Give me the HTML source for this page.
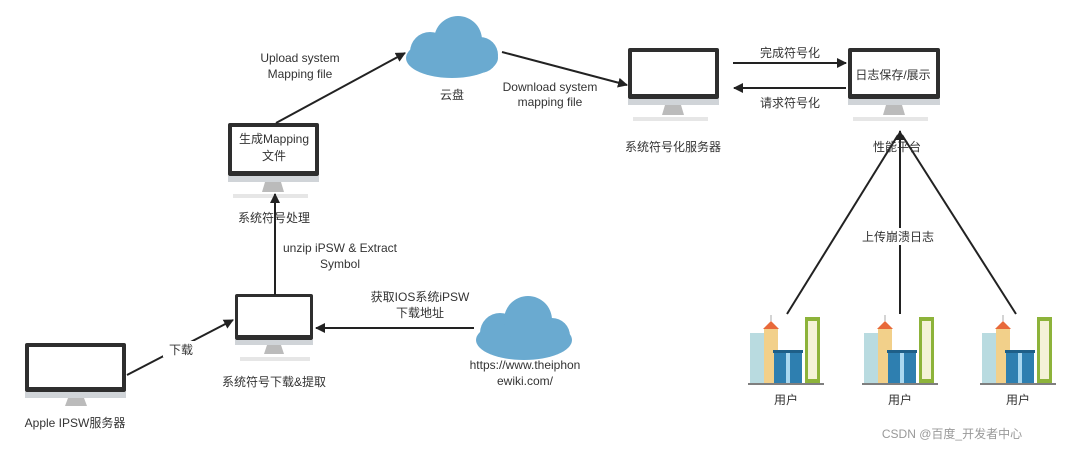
<!DOCTYPE html>
<html><head><meta charset="utf-8"><style>
body{margin:0;background:#fff;}
svg text{font-family:"Liberation Sans","Noto Sans CJK SC",sans-serif;fill:#333;font-size:12px;}
</style></head><body>
<svg width="1080" height="454" viewBox="0 0 1080 454" xmlns="http://www.w3.org/2000/svg">
<defs>
<marker id="a" markerWidth="10" markerHeight="10" refX="9" refY="5" orient="auto" markerUnits="userSpaceOnUse"><path d="M0,0 L10,5 L0,10 z" fill="#222"/></marker>
<g id="bld">
 <rect x="2" y="18" width="16" height="50" fill="#b9dbe0"/>
 <rect x="16" y="14" width="14" height="54" fill="#f2d08a"/>
 <path d="M15,14 L23,6 L31,14z" fill="#e8693a"/>
 <line x1="23" y1="0" x2="23" y2="6" stroke="#aaa"/>
 <rect x="26" y="37" width="28" height="31" fill="#2e7fb0"/>
 <rect x="25" y="35" width="30" height="3" fill="#1e5f88"/>
 <rect x="38" y="38" width="4" height="30" fill="#a9d8f0"/>
 <rect x="57" y="2" width="15" height="66" fill="#8db33a"/>
 <rect x="60" y="6" width="9" height="58" fill="#f4f2d8"/>
 <line x1="0" y1="69" x2="76" y2="69" stroke="#555" stroke-width="1.5"/>
</g>
</defs>

<!-- clouds -->
<g fill="#6aaad0">
 <ellipse cx="452" cy="58" rx="46" ry="20"/><circle cx="430" cy="52" r="20"/><circle cx="458" cy="40" r="24"/><circle cx="480" cy="55" r="18"/>
</g>
<g fill="#6aaad0">
 <ellipse cx="524" cy="340" rx="48" ry="20"/><circle cx="500" cy="333" r="20"/><circle cx="528" cy="320" r="24"/><circle cx="552" cy="336" r="18"/>
</g>

<!-- monitors -->
<g>
 <rect x="228" y="123" width="91" height="53" fill="#2e2e2e" rx="2"/><rect x="232" y="127" width="83" height="44" fill="#fff"/>
 <rect x="228" y="176" width="91" height="6" fill="#d0d4d8"/><path d="M265,182h16l3,10h-22z" fill="#bbb"/><rect x="233" y="194" width="75" height="4" fill="#e6e6e6"/>
</g>
<g>
 <rect x="628" y="48" width="91" height="51" fill="#2e2e2e" rx="2"/><rect x="632" y="52" width="83" height="42" fill="#fff"/>
 <rect x="628" y="99" width="91" height="6" fill="#d0d4d8"/><path d="M665,105h16l3,10h-22z" fill="#bbb"/><rect x="633" y="117" width="75" height="4" fill="#e6e6e6"/>
</g>
<g>
 <rect x="848" y="48" width="92" height="51" fill="#2e2e2e" rx="2"/><rect x="852" y="52" width="84" height="42" fill="#fff"/>
 <rect x="848" y="99" width="92" height="6" fill="#d0d4d8"/><path d="M886,105h16l3,10h-22z" fill="#bbb"/><rect x="853" y="117" width="75" height="4" fill="#e6e6e6"/>
</g>
<g>
 <rect x="235" y="294" width="78" height="46" fill="#2e2e2e" rx="2"/><rect x="238" y="297" width="72" height="38" fill="#fff"/>
 <rect x="235" y="340" width="78" height="5" fill="#d0d4d8"/><path d="M267,345h14l3,9h-20z" fill="#bbb"/><rect x="240" y="357" width="70" height="4" fill="#e6e6e6"/>
</g>
<g>
 <rect x="25" y="343" width="101" height="49" fill="#2e2e2e" rx="2"/><rect x="29" y="347" width="93" height="40" fill="#fff"/>
 <rect x="25" y="392" width="101" height="6" fill="#d0d4d8"/><path d="M68,398h16l3,8h-22z" fill="#bbb"/>
</g>

<!-- buildings -->
<use href="#bld" x="748" y="315"/>
<use href="#bld" x="862" y="315"/>
<use href="#bld" x="980" y="315"/>

<!-- connectors -->
<g stroke="#222" stroke-width="2" fill="none">
 <line x1="276" y1="123" x2="405" y2="53" marker-end="url(#a)"/>
 <line x1="502" y1="52" x2="627" y2="85" marker-end="url(#a)"/>
 <line x1="733" y1="63" x2="846" y2="63" marker-end="url(#a)"/>
 <line x1="846" y1="88" x2="734" y2="88" marker-end="url(#a)"/>
 <line x1="787" y1="314" x2="898" y2="135"/>
 <line x1="1016" y1="314" x2="902" y2="135"/>
 <line x1="900" y1="314" x2="900" y2="131" marker-end="url(#a)"/>
 <line x1="275" y1="295" x2="275" y2="194" marker-end="url(#a)"/>
 <line x1="474" y1="328" x2="316" y2="328" marker-end="url(#a)"/>
 <line x1="127" y1="375" x2="233" y2="320" marker-end="url(#a)"/>
</g>
<rect x="163" y="341" width="36" height="16" fill="#fff"/>
<rect x="858" y="228" width="80" height="17" fill="#fff"/>

<!-- labels -->
<text x="274" y="143" text-anchor="middle" font-size="13">生成Mapping</text>
<text x="274" y="160" text-anchor="middle" font-size="13">文件</text>
<text x="893" y="79" text-anchor="middle" font-size="13">日志保存/展示</text>
<text x="300" y="62" text-anchor="middle">Upload system</text>
<text x="300" y="78" text-anchor="middle">Mapping file</text>
<text x="452" y="99" text-anchor="middle">云盘</text>
<text x="550" y="91" text-anchor="middle">Download system</text>
<text x="550" y="106" text-anchor="middle">mapping file</text>
<text x="790" y="57" text-anchor="middle">完成符号化</text>
<text x="790" y="107" text-anchor="middle">请求符号化</text>
<text x="673" y="151" text-anchor="middle">系统符号化服务器</text>
<text x="897" y="151" text-anchor="middle">性能平台</text>
<text x="274" y="222" text-anchor="middle">系统符号处理</text>
<text x="340" y="252" text-anchor="middle">unzip iPSW &amp; Extract</text>
<text x="340" y="268" text-anchor="middle">Symbol</text>
<text x="898" y="241" text-anchor="middle">上传崩溃日志</text>
<text x="420" y="301" text-anchor="middle">获取IOS系统iPSW</text>
<text x="420" y="317" text-anchor="middle">下载地址</text>
<text x="181" y="354" text-anchor="middle">下载</text>
<text x="274" y="386" text-anchor="middle">系统符号下载&amp;提取</text>
<text x="525" y="369" text-anchor="middle">https://www.theiphon</text>
<text x="525" y="385" text-anchor="middle">ewiki.com/</text>
<text x="75" y="427" text-anchor="middle">Apple IPSW服务器</text>
<text x="786" y="404" text-anchor="middle">用户</text>
<text x="900" y="404" text-anchor="middle">用户</text>
<text x="1018" y="404" text-anchor="middle">用户</text>
<text x="952" y="438" text-anchor="middle" font-size="15" style="fill:#999">CSDN @百度_开发者中心</text>
</svg>
</body></html>
